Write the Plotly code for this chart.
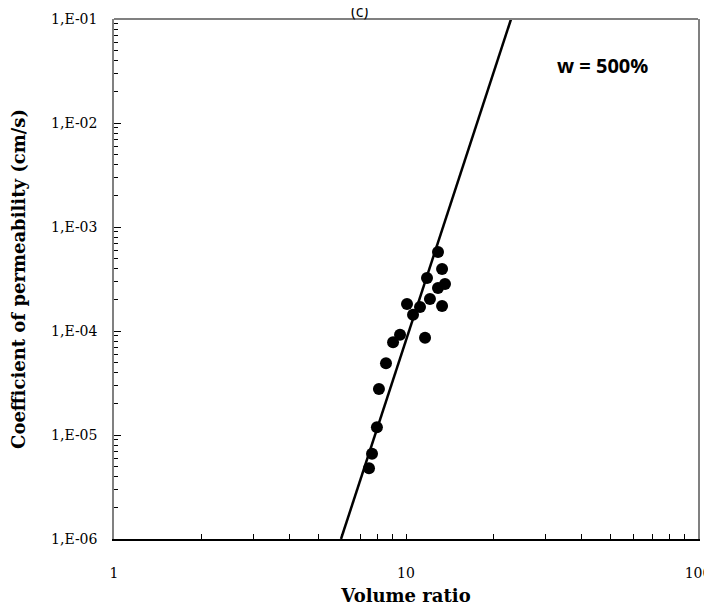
import plotly.graph_objects as go

# Data
volume_ratio = [7.47, 7.65, 7.95, 8.08, 8.54, 9.03, 9.54, 11.62, 10.08, 10.57,
                11.17, 12.08, 11.80, 12.87, 13.29, 12.87, 13.29, 13.60]
permeability = [4.8e-6, 6.6e-6, 1.19e-5, 2.77e-5, 4.9e-5, 7.8e-5, 9.2e-5, 8.6e-5, 1.82e-4, 1.43e-4,
                1.70e-4, 2.03e-4, 3.24e-4, 2.59e-4, 1.74e-4, 5.75e-4, 3.94e-4, 2.83e-4]

fit_x = [5.99, 22.9]
fit_y = [1e-6, 1e-1]

y_tickvals = [1e-6, 1e-5, 1e-4, 1e-3, 1e-2, 1e-1]
y_ticktext = ["1,E-06", "1,E-05", "1,E-04", "1,E-03", "1,E-02", "1,E-01"]
x_tickvals = [1, 10, 100]
x_ticktext = ["1", "10", "100"]

serif = "DejaVu Serif"

fig = go.Figure()
fig.add_trace(go.Scatter(x=fit_x, y=fit_y, mode="lines",
                         line=dict(color="black", width=2.5), showlegend=False))
fig.add_trace(go.Scatter(x=volume_ratio, y=permeability, mode="markers",
                         marker=dict(color="black", size=12), showlegend=False))

# page body adds an 8px margin, so the figure is 8px smaller than the window
fig.update_layout(
    width=704, height=598,
    margin=dict(l=106, r=14, t=11, b=67, autoexpand=False),
    paper_bgcolor="white", plot_bgcolor="white",
    xaxis=dict(type="log", range=[0, 2], tickvals=x_tickvals, ticktext=x_ticktext,
               automargin=False,
               showgrid=False, zeroline=False, showline=True, linecolor="black", linewidth=1.5,
               ticks="inside", ticklen=0, tickcolor="black",
               minor=dict(ticks="inside", ticklen=5, tickcolor="black", dtick="D1", showgrid=False),
               tickfont=dict(family=serif, size=14, color="black"),
               ticklabelstandoff=20,
               title=dict(text="<b>Volume ratio</b>", font=dict(family=serif, size=18, color="black"),
                          standoff=11)),
    yaxis=dict(type="log", range=[-6, -1], tickvals=y_tickvals, ticktext=y_ticktext,
               automargin=False,
               showgrid=False, zeroline=False, showline=True, linecolor="#808080", linewidth=1.5,
               mirror=True,
               ticks="inside", ticklen=7, tickcolor="black",
               minor=dict(ticks="inside", ticklen=4, tickcolor="black", dtick="D1", showgrid=False),
               tickfont=dict(family=serif, size=14, color="black"),
               ticklabelstandoff=12,
               title=dict(text="<b>Coefficient of permeability (cm/s)</b>",
                          font=dict(family=serif, size=18, color="black"), standoff=24)),
)

fig.add_shape(type="line", xref="paper", yref="paper", x0=0, x1=1, y0=1, y1=1,
              line=dict(color="#808080", width=2))

fig.add_annotation(text="<b>w = 500%</b>", xref="paper", yref="paper", x=0.837, y=0.9115,
                   xanchor="center", yanchor="middle",
                   showarrow=False, font=dict(family="Open Sans", size=20, color="black"))
fig.add_annotation(text="(c)", xref="paper", yref="paper", x=0.421, y=1.0154,
                   xanchor="center", yanchor="middle",
                   showarrow=False, font=dict(family="Open Sans", size=16, color="black"))

fig.write_html("out.html")
